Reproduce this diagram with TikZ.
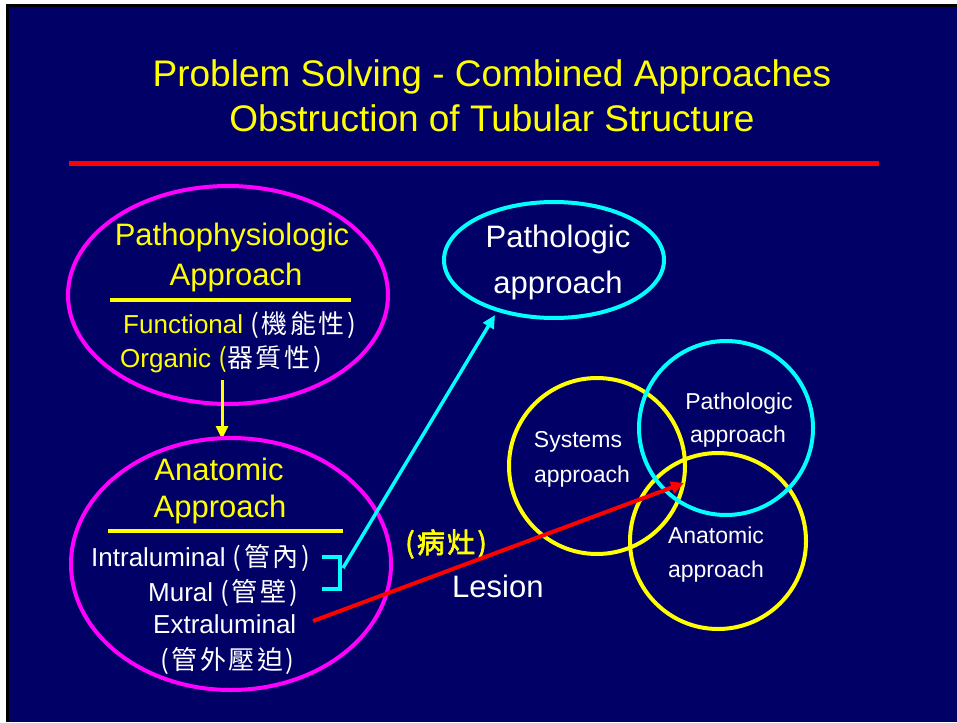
\documentclass[tikz,border=0pt]{standalone}
\usepackage{fontspec}
\setmainfont{Liberation Sans}
\newfontfamily\cjk[LetterSpace=10]{Noto Sans CJK TC}
\newfontfamily\cjkb[FakeBold=2.5,LetterSpace=8]{Noto Sans CJK TC}
\usetikzlibrary{arrows.meta}
\definecolor{navy}{RGB}{0,0,102}
\definecolor{ylw}{RGB}{255,255,0}
\definecolor{mag}{RGB}{255,0,255}
\definecolor{cyn}{RGB}{0,255,255}
\definecolor{rd}{RGB}{255,0,0}
\tikzset{
  txt/.style={inner sep=0pt, anchor=base},
  txtw/.style={inner sep=0pt, anchor=base west},
  ttl/.style={txt, text=ylw, font=\fontsize{37}{37}\selectfont},
  big/.style={font=\fontsize{31}{31}\selectfont},
  mid/.style={font=\fontsize{26}{26}\selectfont},
  sml/.style={font=\fontsize{23}{23}\selectfont},
  ring/.style={line width=4pt},
  rule/.style={draw=ylw, line width=4pt},
  tip/.style={-{Triangle[length=13pt,width=12pt]}},
}
\begin{document}
\begin{tikzpicture}[x=1pt,y=-1pt]
\useasboundingbox (0,0) rectangle (957,722);
\fill[white] (0,0) rectangle (957,722);
\fill[black] (6,4) rectangle (957,722);
\fill[navy] (9,7) rectangle (957,722);

% title
\node[ttl] (t1) at (492,87) {Problem Solving - Combined Approaches};
\node[ttl] (t2) at (492,132) {Obstruction of Tubular Structure};
\draw[draw=rd, line width=5pt] (69,164) -- (879,164);

% Pathophysiologic ellipse
\draw[mag, ring] (228,295) ellipse [x radius=160, y radius=109];
\node[txt, big, text=ylw] (pp1) at (232,245) {Pathophysiologic};
\node[txt, big, text=ylw] (pp2) at (236,285) {Approach};
\coordinate (r1a) at (110,300); \coordinate (r1b) at (351,300);
\draw[rule] (r1a) -- (r1b);
\node[txtw, mid] (fn) at (123,333) {\textcolor{ylw}{Functional }{\color{white}\cjk(機能性)}};
\node[txtw, mid] (or) at (120,367) {\textcolor{ylw}{Organic }{\color{white}\cjk\textcolor{ylw}{(}器質性)}};

% arrow down
\coordinate (da) at (222,380); \coordinate (db) at (222,439);
\draw[ylw, line width=3pt, tip] (da) -- (db);

% Anatomic ellipse
\draw[mag, ring] (231,564) ellipse [x radius=160, y radius=126];
\node[txt, big, text=ylw] (an1) at (219,480) {Anatomic};
\node[txt, big, text=ylw] (an2) at (220,517) {Approach};
\coordinate (r2a) at (108,531); \coordinate (r2b) at (343,531);
\draw[rule] (r2a) -- (r2b);
\node[txtw, mid, text=white] (in) at (91,566) {Intraluminal {\cjk(管內)}};
\node[txtw, mid, text=white] (mu) at (148,601) {Mural {\cjk(管壁)}};
\node[txtw, mid, text=white] (ex) at (153,633) {Extraluminal};
\node[txtw, mid, text=white] (ex2) at (160,669) {\cjk(管外壓迫)};

% cyan bracket and arrow
\coordinate (b1) at (322,557); \coordinate (b2) at (340,557);
\coordinate (b3) at (340,589); \coordinate (b4) at (322,589);
\draw[cyn, line width=4.5pt] (b1) -- (b2) -- (b3) -- (b4);
\coordinate (ca) at (343,568); \coordinate (cb) at (495,315);
\draw[cyn, line width=3.5pt, tip] (ca) -- (cb);

% Pathologic ellipse
\draw[cyn, ring] (554,260) ellipse [x radius=110, y radius=58];
\node[txt, big, text=white] (pa1) at (558,247) {Pathologic};
\node[txt, big, text=white] (pa2) at (558,293) {approach};

% circles
\draw[ylw, ring] (597,466) circle [radius=88];
\draw[ylw, ring] (718,541) circle [radius=88];
\draw[cyn, ring] (726,428) circle [radius=87];
\node[txt, sml, text=white] (s1) at (578,447) {Systems};
\node[txt, sml, text=white] (s2) at (582,482) {approach};
\node[txt, sml, text=white] (p1) at (739,409) {Pathologic};
\node[txt, sml, text=white] (p2) at (738,442) {approach};
\node[txt, sml, text=white] (a1) at (716,543) {Anatomic};
\node[txt, sml, text=white] (a2) at (716,577) {approach};

% lesion
\node[txtw, font=\fontsize{28}{28}\selectfont, text=ylw] (bz) at (405,553) {\cjkb(病灶)};
\node[txtw, big, text=white] (le) at (452,597) {Lesion};
\coordinate (ra) at (313,621); \coordinate (rb) at (684,483);
\draw[rd, line width=4pt, tip] (ra) -- (rb);
\end{tikzpicture}
\end{document}
